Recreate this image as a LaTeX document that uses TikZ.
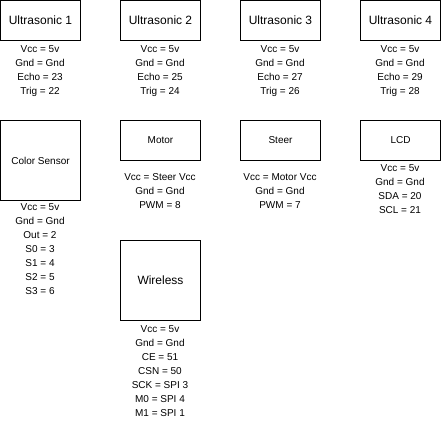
\documentclass[tikz,border=0pt]{standalone}
\usepackage{fontspec}
\setmainfont{Liberation Sans}
\begin{document}
\begin{tikzpicture}[x=1pt,y=-1pt,
  box/.style={draw=black, line width=1pt, minimum width=80pt, inner sep=0pt, text=black},
  bigbox/.style={box, font=\fontsize{12}{14}\selectfont},
  smallbox/.style={box, font=\fontsize{10}{12}\selectfont},
  pins/.style={align=center, inner sep=0pt, text=black, font=\fontsize{10}{14}\selectfont}]
\useasboundingbox (0,0) rectangle (441,421);
% top row
\node[bigbox, minimum height=40pt] (u1) at (40.5,20.5) {Ultrasonic 1};
\node[bigbox, minimum height=40pt] (u2) at (160.5,20.5) {Ultrasonic 2};
\node[bigbox, minimum height=40pt] (u3) at (280.5,20.5) {Ultrasonic 3};
\node[bigbox, minimum height=40pt] (u4) at (400.5,20.5) {Ultrasonic 4};
\node[pins] (u1p) at (40,71) {Vcc = 5v\\Gnd = Gnd\\Echo = 23\\Trig = 22};
\node[pins] (u2p) at (160,71) {Vcc = 5v\\Gnd = Gnd\\Echo = 25\\Trig = 24};
\node[pins] (u3p) at (280,71) {Vcc = 5v\\Gnd = Gnd\\Echo = 27\\Trig = 26};
\node[pins] (u4p) at (400,71) {Vcc = 5v\\Gnd = Gnd\\Echo = 29\\Trig = 28};
% second row
\node[smallbox, minimum height=80pt] (cs) at (40.5,160.5) {Color Sensor};
\node[smallbox, minimum height=40pt] (mo) at (160.5,140.5) {Motor};
\node[smallbox, minimum height=40pt] (st) at (280.5,140.5) {Steer};
\node[smallbox, minimum height=40pt] (lcd) at (400.5,140.5) {LCD};
\node[pins] (csp) at (40,249) {Vcc = 5v\\Gnd = Gnd\\Out = 2\\S0 = 3\\S1 = 4\\S2 = 5\\S3 = 6};
\node[pins] (mop) at (160,191) {Vcc = Steer Vcc\\Gnd = Gnd\\PWM = 8};
\node[pins] (stp) at (280,191) {Vcc = Motor Vcc\\Gnd = Gnd\\PWM = 7};
\node[pins] (lcdp) at (400,189.5) {Vcc = 5v\\Gnd = Gnd\\SDA = 20\\SCL = 21};
% wireless
\node[bigbox, minimum height=80pt] (wl) at (160.5,280.5) {Wireless};
\node[pins] (wlp) at (160,371) {Vcc = 5v\\Gnd = Gnd\\CE = 51\\CSN = 50\\SCK = SPI 3\\M0 = SPI 4\\M1 = SPI 1};
\end{tikzpicture}
\end{document}
